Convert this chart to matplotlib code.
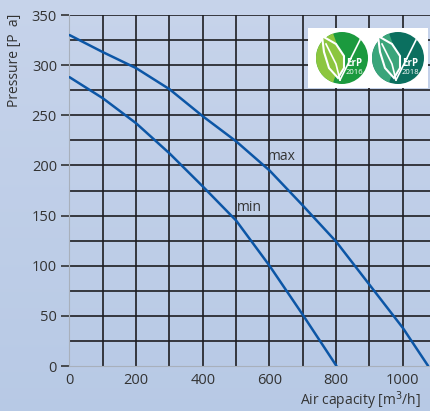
import numpy as np
import matplotlib
matplotlib.use("Agg")
import matplotlib.pyplot as plt
from matplotlib.patches import Rectangle, Circle, Polygon, Wedge

# Data
max_x = [0, 100, 200, 300, 400, 500, 600, 700, 800, 900, 1000, 1076]
max_y = [330, 313, 297, 276, 249, 224, 195, 160, 124, 81, 38, 0]
min_x = [0, 100, 200, 300, 400, 500, 600, 700, 801]
min_y = [288, 267, 242, 212, 179, 145, 100, 51, 0]
x_ticks = [0, 200, 400, 600, 800, 1000]
y_ticks = [0, 50, 100, 150, 200, 250, 300, 350]
curve_labels = ["max", "min"]
logo_years = ["2016", "2018"]

plt.rcParams['font.family'] = ['Open Sans', 'DejaVu Sans']

W, H = 431, 411
fig = plt.figure(figsize=(W / 100, H / 100), dpi=100)

# background gradient
bg = fig.add_axes([0, 0, 1, 1])
bg.set_axis_off()
g = np.linspace(0, 1, 200)[:, None] * np.ones((1, 200))
top = np.array([0.78, 0.83, 0.92])
bot = np.array([0.72, 0.79, 0.90])
img = top[None, None, :] * (1 - g[..., None]) + bot[None, None, :] * g[..., None]
bg.imshow(img, aspect='auto', extent=[0, 1, 0, 1], origin='upper')

ax = fig.add_axes([69.5 / W, (H - 366) / H, 1 - 69.5 / W, (366 - 15) / H])
ax.patch.set_alpha(0)
ax.set_xlim(0, 1084.5)
ax.set_ylim(0, 350)

for xv in range(100, 1100, 100):
    ax.axvline(xv, color='#1e1e22', lw=1.2, zorder=1)
for yv in range(25, 351, 25):
    ax.axhline(yv, color='#1e1e22', lw=1.2, zorder=1)

ax.plot(max_x, max_y, color='#0c56a6', lw=1.8, zorder=3, solid_capstyle='round')
ax.plot(min_x, min_y, color='#0c56a6', lw=1.8, zorder=3, solid_capstyle='round')

ax.text(596, 209, curve_labels[0], fontsize=10, color='#333333', ha='left', va='center', zorder=4)
ax.text(501, 158, curve_labels[1], fontsize=10, color='#333333', ha='left', va='center', zorder=4)

for s in ['top', 'right']:
    ax.spines[s].set_visible(False)
ax.spines['left'].set_color('#a8b0bc')
ax.spines['bottom'].set_color('#a8b0bc')
ax.spines['left'].set_linewidth(0.8)
ax.spines['bottom'].set_linewidth(0.8)

ax.set_xticks(x_ticks)
ax.set_yticks(y_ticks)
ax.tick_params(axis='y', length=6, width=1.2, color='#333333', labelsize=10.5, labelcolor='#333333', pad=3)
ax.tick_params(axis='x', length=0, labelsize=10.5, labelcolor='#333333', pad=5)

fig.text(15 / W, 1 - 60 / H, 'Pressure [P  a]', rotation=90, fontsize=10, color='#333333',
         ha='center', va='center')
fig.text(421 / W, 1 - 401 / H, 'Air capacity [m$^3$/h]', fontsize=10, color='#333333',
         ha='right', va='center')

# ErP logos
lx0, lx1 = 308, 428
ly0, ly1 = 28, 88
lax = fig.add_axes([lx0 / W, (H - ly1) / H, (lx1 - lx0) / W, (ly1 - ly0) / H])
lax.set_xlim(0, lx1 - lx0)
lax.set_ylim(ly1 - ly0, 0)
lax.set_axis_off()
lax.add_patch(Rectangle((0, 0), lx1 - lx0, ly1 - ly0, facecolor='white', edgecolor='none'))

logos = [(34, 30, '#8cc63f', '#1b9a3e', logo_years[0]),
         (90, 30, '#3aa57a', '#0b6f5f', logo_years[1])]
for cx, cy, light, dark, yr in logos:
    r = 26
    lax.add_patch(Circle((cx, cy), r, facecolor=dark, edgecolor='none'))
    lax.add_patch(Wedge((cx, cy), r, 110, 250, facecolor=light, edgecolor='none'))
    leaf = Polygon([(cx - 20, cy - 22), (cx - 6, cy - 14), (cx + 2, cy - 2), (cx + 2, cy + 10),
                    (cx - 4, cy + 20), (cx - 13, cy + 10), (cx - 18, cy - 6)],
                   closed=True, facecolor=light, edgecolor='white', lw=1.5)
    lax.add_patch(leaf)
    lax.plot([cx - 16, cx - 6, cx - 2], [cy - 14, cy + 6, cy + 22], color='white', lw=1.2)
    lax.plot([cx - 2, cx + 8, cx + 18], [cy + 22, cy + 2, cy - 18], color='white', lw=1.2)
    lax.text(cx + 12, cy + 6, 'ErP', fontsize=7, color='white', ha='center', va='center',
             fontweight='bold')
    lax.text(cx + 12, cy + 14, yr, fontsize=5.5, color='white', ha='center', va='center')

fig.savefig('out.png', dpi=100)
